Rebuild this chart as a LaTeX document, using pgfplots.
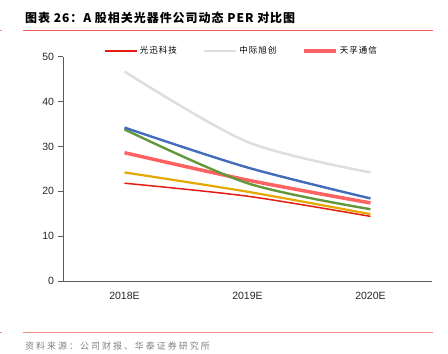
\documentclass[border=0pt]{standalone}
\usepackage{pgfplots}
\pgfplotsset{compat=1.18}
\usepackage{fontspec}
\setmainfont{Liberation Sans}
\newfontfamily\cjk{Noto Sans CJK SC}
\newfontfamily\cjktitle{Noto Sans CJK SC}[LetterSpace=8]
\newfontfamily\cjksrc{Noto Sans CJK SC}[LetterSpace=22]
\newfontfamily\cjkleg{Noto Sans CJK SC}[LetterSpace=12]
\definecolor{cRed}{RGB}{228,28,18}
\definecolor{cGray}{RGB}{222,222,222}
\definecolor{cSalmon}{RGB}{255,98,98}
\definecolor{cBlue}{RGB}{66,108,186}
\definecolor{cGreen}{RGB}{98,152,58}
\definecolor{cYellow}{RGB}{228,168,0}
\definecolor{cRule}{RGB}{240,90,80}
\definecolor{cAxis}{RGB}{90,90,90}
\begin{document}
\begin{tikzpicture}[x=1pt,y=1pt]
\path[use as bounding box] (0,0) rectangle (448,354);
\node[anchor=west, inner sep=0] at (25,336) {\cjktitle\bfseries\fontsize{12}{14}\selectfont 图表 26：A 股相关光器件公司动态 PER 对比图};
\draw[cRule, line width=0.9pt] (23,324) -- (433,324);
\draw[cRule!70, line width=0.9pt] (0,324) -- (2,324);
\draw[cRule!70, line width=0.9pt] (23,22) -- (433,22);
\draw[cRule!70, line width=0.9pt] (0,22) -- (2,22);
\node[anchor=west, inner sep=0, text=gray] at (25,8) {\cjksrc\fontsize{9}{10}\selectfont 资料来源：公司财报、华泰证券研究所};
\begin{axis}[
  at={(63pt,73pt)}, anchor=south west, scale only axis,
  width=369pt, height=224.3pt,
  xmin=-0.5, xmax=2.5, ymin=0, ymax=50,
  ytick={0,10,...,50},
  xtick={0,1,2}, xticklabels={2018E,2019E,2020E},
  major x tick style={draw=none},
  extra x ticks={0.5,1.5}, extra x tick labels={},
  extra x tick style={major tick length=3pt, tick style={cAxis, line width=0.6pt}},
  axis x line*=bottom, axis y line*=left,
  axis line style={-, cAxis, line width=0.8pt},
  tick align=outside,
  major tick length=4.5pt,
  tick style={cAxis, line width=0.6pt},
  tick label style={font=\fontsize{10.5}{12}\selectfont, text=black!85},
  /pgf/number format/assume math mode=true,
  yticklabel style={xshift=-1pt},
  xticklabel style={yshift=-3pt},
  clip=false,
  legend columns=3,
  legend style={at={(0.484,1.025)}, anchor=center, draw=none, fill=none,
    font=\cjkleg\fontsize{8.5}{10}\selectfont,
    /tikz/every even column/.append style={column sep=24pt},
    inner xsep=0pt, inner ysep=0pt},
  legend image code/.code={\draw[#1] (0pt,0pt) -- (32pt,0pt);},
]
\addplot[cRed, line width=1.5pt, smooth] coordinates {(0,21.8) (1,18.9) (2,14.4)};
\addlegendentry{光迅科技}
\addplot[cGray, line width=2.5pt, smooth] coordinates {(0,46.7) (1,31.0) (2,24.2)};
\addlegendentry{中际旭创}
\addplot[cSalmon, line width=3.5pt, smooth] coordinates {(0,28.6) (1,22.5) (2,17.4)};
\addlegendentry{天孚通信}
\addplot[cYellow, line width=2.2pt, smooth, forget plot] coordinates {(0,24.2) (1,19.9) (2,14.9)};
\addplot[cGreen, line width=2.4pt, smooth, forget plot] coordinates {(0,33.8) (1,21.8) (2,16.0)};
\addplot[cBlue, line width=2.4pt, smooth, forget plot] coordinates {(0,34.2) (1,25.3) (2,18.4)};
\end{axis}
\end{tikzpicture}
\end{document}
